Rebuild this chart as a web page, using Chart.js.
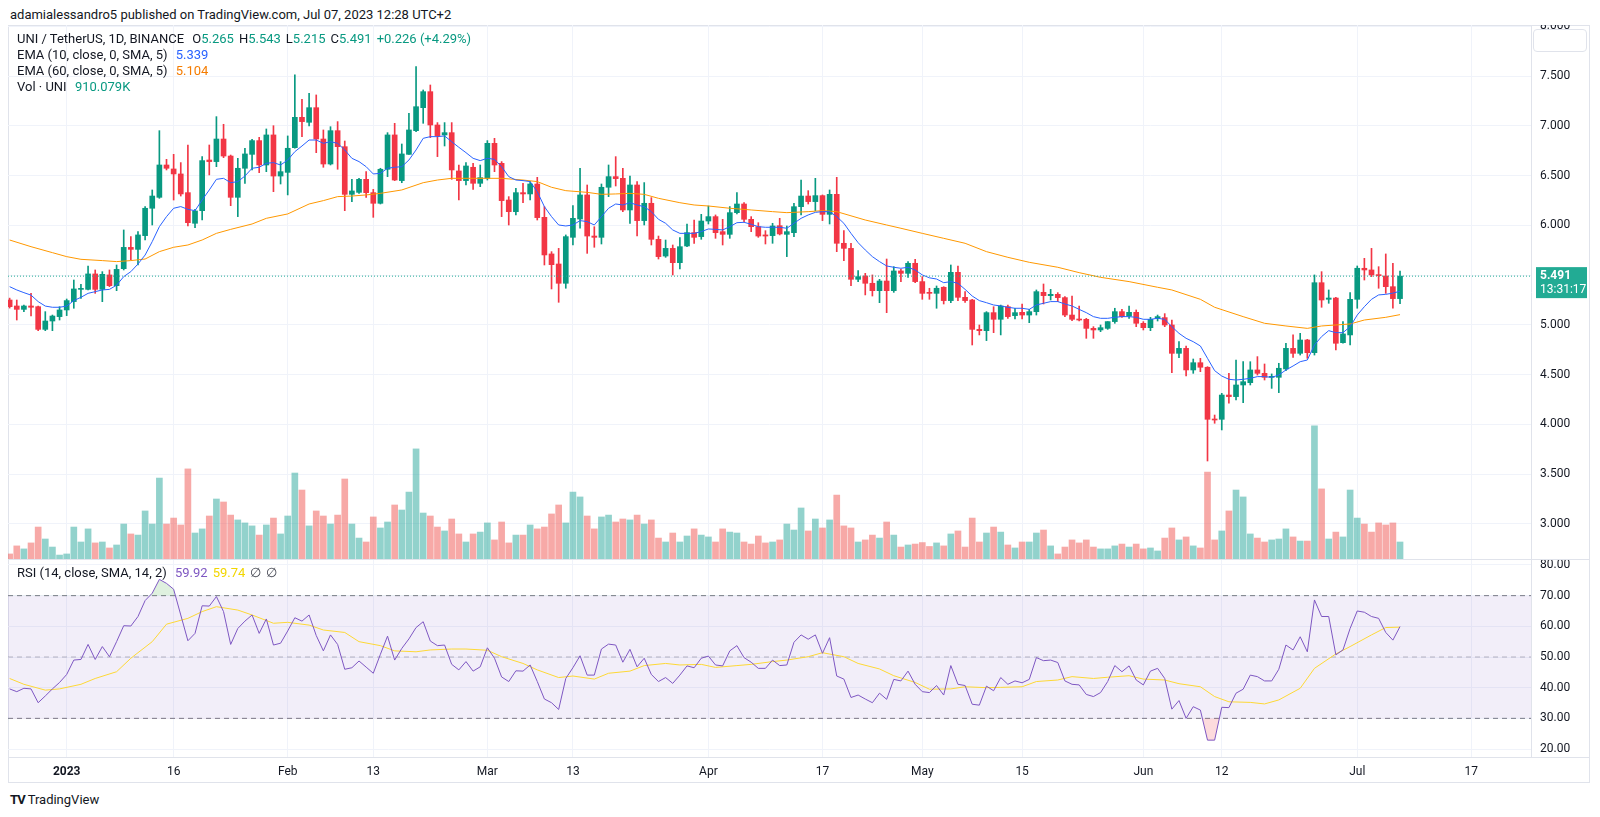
<!DOCTYPE html>
<html>
<head>
<meta charset="utf-8">
<script src="https://cdn.jsdelivr.net/npm/chart.js@4.4.0/dist/chart.umd.min.js"></script>
<style>
  body { margin:0; background:#fff; font-family: Roboto, "Noto Sans", sans-serif; color:#131722; }
  .abs { position:absolute; }
  #hdr { left:10px; top:7px; font-size:13px; line-height:16px; color:#131722; }
  #frame { left:8px; top:25px; width:1582px; height:758px; border:1px solid #e0e3eb; box-sizing:border-box; }
  .leg { left:17px; font-size:13px; line-height:16px; white-space:nowrap; }
  .leg span { margin-left:5px; }
  .up { color:#089981; }
  #pricebox { left:1533px; top:29px; width:54px; height:23px; border:1px solid #e0e3eb; border-radius:4px; background:#fff; box-sizing:border-box; }
  #logo { left:10px; top:792px; font-size:13px; line-height:16px; }
</style>
</head>
<body>
<div id="hdr" class="abs">adamialessandro5 published on TradingView.com, Jul 07, 2023 12:28 UTC+2</div>
<div id="frame" class="abs"></div>
<div class="abs" style="left:8px;top:25px;width:1582px;height:534px"><canvas id="priceChart"></canvas></div>
<div class="abs" style="left:8px;top:559px;width:1582px;height:224px"><canvas id="rsiChart"></canvas></div>
<div class="abs" style="left:8px;top:559px;width:1582px;height:1px;background:#e0e3eb"></div>
<div class="abs" style="left:8px;top:757px;width:1582px;height:1px;background:#e0e3eb"></div>
<div id="pricebox" class="abs"></div>

<div class="abs leg" style="top:31px">UNI / TetherUS, 1D, BINANCE <span>O<b class="up" style="font-weight:normal">5.265</b></span><span>H<b class="up" style="font-weight:normal">5.543</b></span><span>L<b class="up" style="font-weight:normal">5.215</b></span><span>C<b class="up" style="font-weight:normal">5.491</b></span><span class="up">+0.226 (+4.29%)</span></div>
<div class="abs leg" style="top:47px">EMA (10, close, 0, SMA, 5) <span style="color:#2962ff">5.339</span></div>
<div class="abs leg" style="top:63px">EMA (60, close, 0, SMA, 5) <span style="color:#f57c00">5.104</span></div>
<div class="abs leg" style="top:79px">Vol · UNI <span class="up">910.079K</span></div>
<div class="abs leg" style="top:565px">RSI (14, close, SMA, 14, 2) <span style="color:#7e57c2">59.92</span><span style="color:#f2d600">59.74</span><span style="color:#434651">∅</span><span style="color:#434651">∅</span></div>
<div id="logo" class="abs"><b style="letter-spacing:-1px">TV</b> TradingView</div>

<script>
// day 0 = Jan 1 2023, first candle is Dec 24 2022
const firstDay = -8;
const tickDays = [0, 15, 31, 43, 59, 71, 90, 106, 120, 134, 151, 162, 181, 197];
const tickLabels = ["2023", "16", "Feb", "13", "Mar", "13", "Apr", "17", "May", "15", "Jun", "12", "Jul", "17"];
const priceTicks = [3.0, 3.5, 4.0, 4.5, 5.0, 5.5, 6.0, 6.5, 7.0, 7.5, 8.0];
const rsiTicks = [20, 30, 40, 50, 60, 70, 80];

const opens = [
  5.251,5.191,5.157,5.191,5.184,4.956,5.040,5.084,5.151,5.235,
  5.358,5.358,5.513,5.358,5.503,5.395,5.566,5.780,5.760,5.898,
  6.173,6.283,6.608,6.568,6.518,6.330,6.022,6.149,6.658,6.642,
  6.869,6.698,6.283,6.575,6.715,6.853,6.608,6.910,6.497,6.534,
  6.782,7.087,7.037,7.184,6.869,6.618,6.953,6.792,6.313,6.333,
  6.464,6.330,6.223,6.565,6.910,6.451,6.715,6.953,7.184,7.345,
  7.010,6.910,6.933,6.548,6.451,6.585,6.424,6.474,6.826,6.625,
  6.256,6.139,6.330,6.317,6.417,6.082,5.714,5.613,5.419,5.881,
  6.065,6.307,5.894,5.881,6.384,6.491,6.474,6.156,6.407,6.049,
  6.223,5.861,5.693,5.770,5.626,5.794,5.928,5.888,6.045,6.089,
  5.938,5.911,6.129,6.216,6.062,5.988,5.905,5.898,5.998,5.911,
  5.928,6.189,6.296,6.240,6.300,6.112,6.313,5.821,5.770,5.459,
  5.492,5.419,5.345,5.442,5.345,5.543,5.519,5.620,5.436,5.325,
  5.318,5.379,5.245,5.529,5.278,5.251,4.956,4.943,5.124,5.057,
  5.184,5.094,5.127,5.100,5.134,5.328,5.295,5.308,5.275,5.100,
  5.060,5.057,4.966,4.950,4.966,5.034,5.134,5.090,5.127,5.017,
  4.973,5.067,5.074,5.000,4.715,4.765,4.548,4.621,4.575,4.055,
  4.052,4.296,4.280,4.397,4.420,4.548,4.514,4.474,4.474,4.558,
  4.765,4.715,4.849,4.722,5.425,5.258,5.271,4.822,4.900,5.258,
  5.570,5.553,5.503,5.492,5.385,5.265
];
const highs = [
  5.270,5.251,5.200,5.318,5.190,5.134,5.100,5.184,5.261,5.452,
  5.409,5.593,5.553,5.536,5.553,5.603,5.955,5.888,5.938,6.190,
  6.357,6.953,6.665,6.715,6.632,6.809,6.162,6.692,6.809,7.094,
  7.017,6.708,6.675,6.776,6.866,6.886,6.970,7.003,6.642,6.900,
  7.513,7.268,7.328,7.312,6.960,6.993,7.044,6.849,6.464,6.474,
  6.541,6.363,6.575,6.933,7.027,6.819,7.127,7.596,7.362,7.412,
  7.034,7.034,7.034,6.608,6.632,6.625,6.608,6.853,6.876,6.642,
  6.290,6.374,6.424,6.441,6.484,6.190,5.737,5.770,5.905,6.199,
  6.575,6.407,5.988,6.417,6.608,6.692,6.575,6.497,6.441,6.431,
  6.280,5.894,5.854,5.804,5.878,6.015,6.055,6.112,6.196,6.106,
  6.062,6.190,6.330,6.229,6.089,6.028,5.948,6.022,6.072,5.995,
  6.223,6.457,6.350,6.474,6.307,6.357,6.484,5.948,5.821,5.546,
  5.519,5.503,5.459,5.663,5.586,5.559,5.637,5.660,5.486,5.369,
  5.392,5.385,5.603,5.593,5.335,5.258,5.000,5.134,5.184,5.200,
  5.200,5.168,5.211,5.157,5.352,5.412,5.358,5.325,5.285,5.291,
  5.191,5.067,4.983,5.000,5.034,5.168,5.157,5.191,5.151,5.034,
  5.077,5.100,5.114,5.050,4.832,4.789,4.658,4.665,4.581,4.095,
  4.313,4.514,4.648,4.631,4.631,4.682,4.608,4.508,4.615,4.816,
  4.900,4.916,4.856,5.503,5.536,5.352,5.278,5.034,5.325,5.593,
  5.670,5.770,5.586,5.714,5.620,5.543
];
const lows = [
  5.170,5.050,5.134,5.090,4.943,4.943,4.943,5.050,5.094,5.168,
  5.268,5.352,5.318,5.234,5.385,5.345,5.553,5.653,5.603,5.854,
  6.005,6.273,6.558,6.256,6.296,5.995,5.978,6.055,6.508,6.591,
  6.682,6.199,6.089,6.424,6.558,6.531,6.541,6.340,6.417,6.307,
  6.776,6.893,7.000,6.732,6.585,6.608,6.565,6.149,6.240,6.323,
  6.283,6.082,6.216,6.491,6.451,6.430,6.715,6.943,7.027,6.883,
  6.692,6.799,6.464,6.256,6.407,6.363,6.390,6.457,6.541,6.089,
  6.005,6.106,6.229,6.256,6.055,5.603,5.362,5.228,5.369,5.804,
  5.972,5.720,5.781,5.814,6.290,6.397,6.139,6.022,5.894,6.005,
  5.804,5.663,5.680,5.503,5.563,5.787,5.821,5.861,6.015,5.871,
  5.804,5.871,6.116,6.039,5.938,5.881,5.814,5.821,5.905,5.687,
  5.888,6.106,6.216,6.149,6.049,6.015,5.737,5.647,5.395,5.436,
  5.302,5.291,5.224,5.124,5.328,5.436,5.479,5.425,5.258,5.258,
  5.168,5.211,5.224,5.245,5.228,4.799,4.900,4.843,4.923,4.900,
  5.067,5.060,5.060,5.023,5.100,5.211,5.251,5.234,5.084,5.044,
  5.040,4.866,4.866,4.933,4.956,5.017,5.077,5.067,4.983,4.950,
  4.943,5.040,4.983,4.521,4.672,4.487,4.514,4.531,3.633,4.012,
  3.945,4.213,4.246,4.220,4.397,4.497,4.447,4.363,4.320,4.541,
  4.675,4.698,4.665,4.698,5.178,5.218,4.749,4.816,4.799,5.168,
  5.452,5.486,5.369,5.318,5.170,5.215
];
const closes = [
  5.184,5.157,5.191,5.178,4.956,5.040,5.090,5.151,5.245,5.362,
  5.365,5.513,5.358,5.509,5.395,5.559,5.780,5.760,5.905,6.173,
  6.296,6.608,6.575,6.518,6.317,6.028,6.146,6.652,6.642,6.869,
  6.698,6.283,6.575,6.719,6.853,6.608,6.910,6.497,6.541,6.776,
  7.087,7.044,7.184,6.869,6.618,6.953,6.792,6.313,6.347,6.464,
  6.330,6.223,6.565,6.910,6.457,6.719,6.960,7.194,7.345,7.010,
  6.903,6.933,6.558,6.451,6.598,6.424,6.481,6.826,6.608,6.250,
  6.139,6.330,6.317,6.417,6.079,5.704,5.606,5.419,5.888,6.072,
  6.307,5.894,5.881,6.384,6.491,6.471,6.156,6.407,6.049,6.223,
  5.861,5.687,5.770,5.626,5.787,5.928,5.881,6.045,6.089,5.928,
  5.911,6.129,6.216,6.062,5.988,5.894,5.894,5.995,5.915,5.938,
  6.189,6.296,6.240,6.300,6.112,6.313,5.821,5.770,5.459,5.486,
  5.419,5.345,5.442,5.345,5.543,5.519,5.620,5.436,5.318,5.318,
  5.369,5.245,5.529,5.278,5.245,4.956,4.943,5.124,5.057,5.191,
  5.084,5.124,5.100,5.134,5.335,5.295,5.308,5.275,5.100,5.057,
  5.050,4.966,4.950,4.973,5.034,5.134,5.084,5.127,5.017,4.973,
  5.057,5.084,5.000,4.715,4.765,4.548,4.621,4.575,4.052,4.045,
  4.296,4.280,4.397,4.430,4.548,4.514,4.474,4.480,4.565,4.765,
  4.715,4.849,4.722,5.425,5.251,5.271,4.816,4.910,5.258,5.570,
  5.553,5.503,5.496,5.385,5.265,5.491
];
// volume in millions of UNI
const volumes = [
  0.27,0.70,0.54,0.86,1.71,1.07,0.64,0.21,0.27,1.71,
  0.91,1.61,0.86,0.91,0.59,0.75,1.87,1.34,1.28,2.57,
  1.87,4.33,1.87,2.19,1.82,4.82,1.39,1.61,2.30,3.21,
  3.05,2.35,2.09,1.93,1.77,1.28,1.82,2.19,1.34,2.30,
  4.60,3.69,1.77,2.57,2.30,1.87,2.35,4.28,1.87,1.12,
  0.91,2.25,1.66,1.98,2.89,2.62,3.58,5.89,2.46,2.30,
  1.71,1.50,2.14,1.34,0.91,1.34,1.44,1.93,1.02,1.98,
  0.86,1.28,1.28,1.82,1.61,1.71,2.41,2.89,1.93,3.58,
  3.32,2.30,1.61,2.25,2.35,1.98,2.14,2.09,2.35,1.87,
  2.09,1.12,0.91,1.39,0.91,1.23,1.61,1.28,1.18,0.91,
  1.61,1.44,1.39,0.91,0.80,1.23,0.86,0.91,1.02,1.87,
  1.55,2.73,1.50,2.14,1.66,2.09,3.42,1.77,1.66,0.91,
  1.02,1.28,1.12,1.98,1.28,0.64,0.75,0.80,0.88,0.67,
  0.86,0.70,1.34,1.50,0.64,2.19,0.91,1.39,1.71,1.44,
  0.75,0.59,0.91,0.91,1.39,1.55,0.70,0.27,0.64,1.02,
  0.86,1.02,0.64,0.54,0.54,0.70,0.80,0.64,0.80,0.54,
  0.59,0.43,1.12,1.66,1.02,1.18,0.70,0.59,4.65,1.02,
  1.50,2.57,3.69,3.32,1.34,1.12,0.91,1.02,1.07,1.61,
  1.18,0.96,0.96,7.12,3.75,1.07,1.44,1.18,3.69,2.19,
  1.87,1.44,1.93,1.82,1.93,0.91
];
const ema10 = [
  5.385,5.352,5.325,5.300,5.235,5.190,5.178,5.178,5.190,5.245,
  5.278,5.318,5.335,5.352,5.358,5.400,5.486,5.536,5.613,5.703,
  5.838,5.988,6.089,6.173,6.190,6.162,6.149,6.256,6.357,6.464,
  6.474,6.430,6.441,6.497,6.575,6.585,6.625,6.632,6.608,6.658,
  6.742,6.799,6.859,6.859,6.826,6.842,6.826,6.759,6.675,6.642,
  6.591,6.518,6.524,6.575,6.585,6.591,6.658,6.759,6.876,6.893,
  6.893,6.900,6.842,6.786,6.732,6.675,6.652,6.675,6.665,6.591,
  6.491,6.457,6.451,6.441,6.340,6.189,6.089,6.005,5.995,6.005,
  6.049,6.039,6.005,6.089,6.173,6.216,6.206,6.229,6.206,6.189,
  6.139,6.062,6.022,5.955,5.921,5.921,5.921,5.938,5.965,5.961,
  5.955,5.988,6.028,6.032,6.012,5.988,5.982,5.982,5.982,5.972,
  6.022,6.072,6.106,6.132,6.139,6.139,6.089,6.022,5.921,5.827,
  5.754,5.687,5.637,5.593,5.580,5.570,5.580,5.553,5.503,5.474,
  5.462,5.425,5.436,5.419,5.358,5.291,5.245,5.224,5.201,5.191,
  5.178,5.168,5.168,5.157,5.201,5.218,5.235,5.235,5.211,5.191,
  5.157,5.124,5.084,5.067,5.067,5.077,5.084,5.084,5.077,5.057,
  5.057,5.067,5.057,4.983,4.916,4.866,4.832,4.789,4.665,4.541,
  4.487,4.454,4.447,4.454,4.464,4.481,4.481,4.474,4.497,4.548,
  4.588,4.631,4.648,4.799,4.883,4.943,4.923,4.923,4.983,5.100,
  5.184,5.258,5.302,5.308,5.320,5.339
];
const ema60Days = [-8,-5,-2,0,2,5,7,9,11,13,15,17,19,21,23,26,28,31,34,36,38,40,42,44,47,50,52,54,57,61,64,66,68,70,73,75,77,79,81,83,86,88,90,93,96,99,101,104,106,108,112,115,117,120,123,126,129,132,135,139,142,145,149,153,155,159,161,165,168,171,174,176,178,180,182,185,187];
const ema60 = [5.854,5.787,5.727,5.687,5.660,5.647,5.637,5.647,5.663,5.737,5.781,5.804,5.854,5.921,5.961,6.015,6.072,6.116,6.216,6.250,6.290,6.296,6.307,6.323,6.357,6.430,6.457,6.474,6.474,6.474,6.457,6.441,6.384,6.350,6.333,6.313,6.317,6.323,6.313,6.273,6.229,6.206,6.196,6.173,6.156,6.139,6.129,6.139,6.149,6.139,6.055,6.005,5.972,5.921,5.871,5.821,5.737,5.680,5.630,5.580,5.526,5.479,5.436,5.379,5.352,5.258,5.178,5.084,5.017,4.990,4.966,4.990,5.000,5.010,5.050,5.077,5.104];
const rsi = [
  39.6,38.7,39.8,39.6,35.1,37.3,39.6,41.7,44.3,49.0,
  49.2,54.1,49.2,53.4,50.1,55.0,60.2,60.1,63.2,68.4,
  70.8,75.3,74.0,72.1,63.7,55.3,57.7,66.7,66.6,69.7,
  64.8,54.1,59.3,61.7,63.7,57.7,62.4,53.9,54.5,58.5,
  62.8,61.7,63.7,57.0,52.0,57.2,54.1,46.0,46.5,48.7,
  46.7,44.7,50.9,56.8,49.0,52.8,55.9,59.6,61.5,55.2,
  53.7,53.9,47.6,45.8,48.5,45.4,46.8,53.0,49.6,43.5,
  42.0,45.5,45.4,47.4,42.0,36.3,35.1,32.9,43.0,46.5,
  50.4,44.1,44.1,52.6,54.2,53.9,48.3,52.5,46.8,49.6,
  44.3,42.0,43.3,41.4,44.1,47.1,46.5,49.6,50.3,47.4,
  47.1,52.0,53.7,49.8,48.3,46.3,46.3,49.0,47.2,47.4,
  54.8,57.2,55.8,57.2,51.2,56.3,43.8,42.8,36.8,37.6,
  36.3,35.1,38.2,36.2,42.7,42.2,45.4,41.1,38.7,38.4,
  40.7,37.6,47.2,41.1,40.7,34.6,34.3,40.5,39.0,43.3,
  41.1,42.2,41.6,42.7,49.8,48.8,49.0,48.2,42.2,41.1,
  40.9,37.8,37.1,38.4,42.0,47.2,45.2,47.1,42.5,40.9,
  45.4,46.3,43.0,33.0,35.8,30.0,33.8,32.7,22.9,22.9,
  33.6,33.5,38.2,39.5,44.1,43.6,42.2,42.2,46.0,53.9,
  52.3,56.6,51.7,68.6,63.2,63.2,50.7,52.3,59.3,65.0,
  64.6,63.2,62.6,58.0,55.5,59.92
];
const rsiMaDays = [-8,-6,-3,-1,2,4,7,9,12,14,17,19,21,24,26,29,31,34,36,39,41,44,46,49,51,54,56,59,61,64,66,69,71,74,76,79,81,84,86,89,91,94,96,99,101,104,106,109,111,114,116,119,121,124,126,129,131,134,136,139,141,144,146,149,151,154,156,159,161,163,166,168,170,173,175,178,180,183,185,187];
const rsiMa = [43.0,41.1,39.2,39.6,41.1,43.0,45.2,49.6,55.0,60.7,62.6,64.8,66.4,65.3,63.7,61.0,61.3,60.4,58.8,58.0,55.0,53.7,52.0,51.7,52.3,52.6,52.6,52.2,50.1,47.9,45.8,43.3,43.8,42.8,44.7,45.4,47.2,47.9,47.4,47.6,46.6,47.2,47.6,48.5,49.0,50.1,51.4,50.1,47.9,46.1,43.9,41.7,39.5,39.6,40.3,40.0,40.1,40.3,42.0,42.5,43.6,43.0,43.4,43.9,42.8,42.5,41.3,40.3,37.1,35.4,35.2,34.7,36.0,39.8,46.3,51.0,53.4,57.2,59.6,59.74];

const xMin = -8.23, xMax = 205.37;
const upColor = '#089981', downColor = '#f23645';
const upVol = 'rgba(38,166,154,0.5)', downVol = 'rgba(239,83,80,0.5)';
const lastClose = closes[closes.length - 1];

const days = closes.map((c, i) => firstDay + i);
const isUp = closes.map((c, i) => c >= opens[i]);
const candleColors = isUp.map(u => u ? upColor : downColor);
const volColors = isUp.map(u => u ? upVol : downVol);

const gridColor = '#f0f3fa';
const tickFont = { family: 'Roboto, "Noto Sans", sans-serif', size: 12 };

// drop the padding Chart.js reserves for edge tick labels, so the panes fill their boxes
function noPad(s) { s.paddingTop = 0; s.paddingBottom = 0; s.paddingLeft = 0; s.paddingRight = 0; }

function xAxis(showLabels) {
  return {
    type: 'linear', min: xMin, max: xMax, offset: false,
    grid: { color: gridColor, drawTicks: false, offset: false },
    border: { display: showLabels, color: '#e0e3eb' },
    ticks: {
      display: showLabels, color: '#131722', padding: 8, maxRotation: 0, autoSkip: false,
      font: ctx => ({ family: tickFont.family, size: 12, weight: ctx.index === 0 ? 'bold' : 'normal' }),
      callback: (v, i) => tickLabels[i]
    },
    afterBuildTicks: s => { s.ticks = tickDays.map(v => ({ value: v })); },
    afterFit: s => { noPad(s); s.height = showLabels ? 26 : 0; }
  };
}

const lastPriceLabel = {
  id: 'lastPriceLabel',
  afterDraw(chart) {
    const y = chart.scales.y.getPixelForValue(lastClose);
    const c = chart.ctx;
    const left = chart.chartArea.right + 5;
    c.save();
    c.fillStyle = '#22ab94';
    c.fillRect(left, y - 9, 51, 31);
    c.fillStyle = '#fff';
    c.font = 'bold 12px Roboto, sans-serif';
    c.textBaseline = 'middle';
    c.fillText(lastClose.toFixed(3), left + 4, y);
    c.font = '12px Roboto, sans-serif';
    c.fillText('13:31:17', left + 4, y + 14);
    c.restore();
  }
};

new Chart(document.getElementById('priceChart'), {
  type: 'bar',
  data: {
    datasets: [
      { type: 'line', data: [{ x: xMin, y: lastClose }, { x: xMax, y: lastClose }],
        borderColor: '#22ab94', borderWidth: 1, borderDash: [1, 2], pointRadius: 0, order: 0 },
      { type: 'line', data: days.map((d, i) => ({ x: d, y: ema10[i] })),
        borderColor: '#2962ff', borderWidth: 1, pointRadius: 0, order: 1 },
      { type: 'line', data: ema60Days.map((d, i) => ({ x: d, y: ema60[i] })),
        borderColor: '#ff9800', borderWidth: 1, pointRadius: 0, order: 2 },
      { data: days.map((d, i) => ({ x: d, y: [opens[i], closes[i]] })),
        backgroundColor: candleColors, barThickness: 5, minBarLength: 1, grouped: false, order: 3 },
      { data: days.map((d, i) => ({ x: d, y: [lows[i], highs[i]] })),
        backgroundColor: candleColors, barThickness: 1, grouped: false, order: 4 },
      { data: days.map((d, i) => ({ x: d, y: volumes[i] })), yAxisID: 'yv',
        backgroundColor: volColors, barThickness: 6, grouped: false, order: 5 }
    ]
  },
  options: {
    responsive: true, maintainAspectRatio: false, animation: false, devicePixelRatio: 1,
    layout: { padding: 0, autoPadding: false },
    plugins: { legend: { display: false }, tooltip: { enabled: false } },
    scales: {
      x: xAxis(false),
      y: {
        position: 'right', min: 2.648, max: 8.015,
        grid: { color: gridColor, drawTicks: false },
        border: { color: '#e0e3eb' },
        ticks: { padding: 9, color: '#131722', font: tickFont, callback: v => v.toFixed(3) },
        afterBuildTicks: s => { s.ticks = priceTicks.map(v => ({ value: v })); },
        afterFit: s => { noPad(s); s.width = 59; }
      },
      yv: { display: false, min: 0, max: 28.57, afterFit: noPad }
    }
  },
  plugins: [lastPriceLabel]
});

const flat = v => [{ x: xMin, y: v }, { x: xMax, y: v }];
const rsiPts = days.map((d, i) => ({ x: d, y: rsi[i] }));

new Chart(document.getElementById('rsiChart'), {
  type: 'line',
  data: {
    datasets: [
      { data: rsiPts, borderColor: '#7e57c2', borderWidth: 1, pointRadius: 0, order: 0 },
      { data: rsiMaDays.map((d, i) => ({ x: d, y: rsiMa[i] })), borderColor: '#fdd835', borderWidth: 1, pointRadius: 0, order: 1 },
      { data: rsiPts, borderWidth: 0, pointRadius: 0, order: 2,
        fill: { target: { value: 70 }, above: 'rgba(76,175,80,0.18)', below: 'rgba(0,0,0,0)' } },
      { data: rsiPts, borderWidth: 0, pointRadius: 0, order: 3,
        fill: { target: { value: 30 }, above: 'rgba(0,0,0,0)', below: 'rgba(242,54,69,0.18)' } },
      { data: flat(70), borderColor: '#787b86', borderWidth: 1, borderDash: [5, 4], pointRadius: 0, order: 4,
        fill: { target: { value: 30 } }, backgroundColor: 'rgba(126,87,194,0.1)' },
      { data: flat(50), borderColor: 'rgba(120,123,134,0.5)', borderWidth: 1, borderDash: [5, 4], pointRadius: 0, order: 5 },
      { data: flat(30), borderColor: '#787b86', borderWidth: 1, borderDash: [5, 4], pointRadius: 0, order: 6 }
    ]
  },
  options: {
    responsive: true, maintainAspectRatio: false, animation: false, devicePixelRatio: 1,
    layout: { padding: 0, autoPadding: false },
    plugins: { legend: { display: false }, tooltip: { enabled: false } },
    scales: {
      x: xAxis(true),
      y: {
        position: 'right', min: 17.4, max: 81.95,
        grid: { color: gridColor, drawTicks: false },
        border: { color: '#e0e3eb' },
        ticks: { padding: 9, color: '#131722', font: tickFont, callback: v => v.toFixed(2) },
        afterBuildTicks: s => { s.ticks = rsiTicks.map(v => ({ value: v })); },
        afterFit: s => { noPad(s); s.width = 59; }
      }
    }
  }
});
</script>
</body>
</html>
